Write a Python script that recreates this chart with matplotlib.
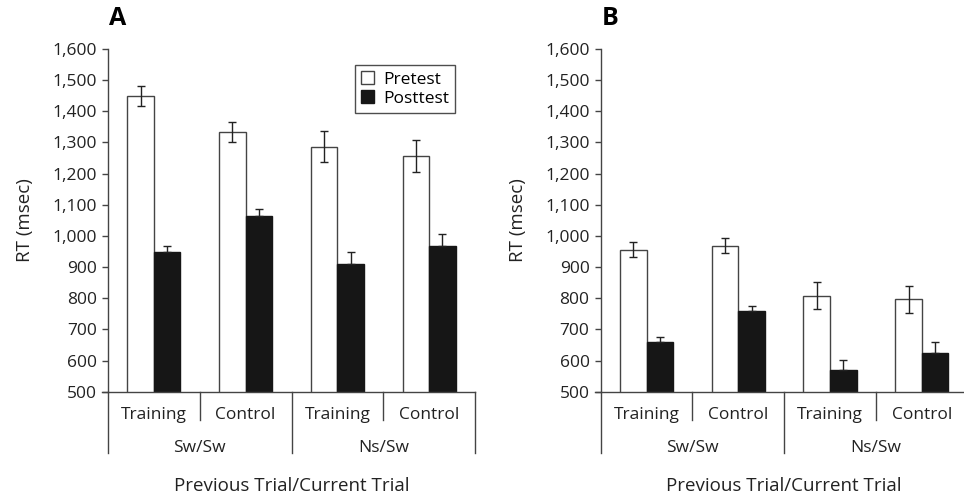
import matplotlib
matplotlib.use("Agg")
import matplotlib.pyplot as plt
import matplotlib.transforms as mtransforms
import numpy as np

plt.rcParams["font.family"] = ["Open Sans", "DejaVu Sans"]

# data
conditions = ["Training", "Control", "Training", "Control"]
groups = ["Sw/Sw", "Ns/Sw"]
series = ["Pretest", "Posttest"]

pre_a = [1449, 1334, 1287, 1257]
pre_a_err = [32, 32, 51, 51]
post_a = [948, 1064, 911, 969]
post_a_err = [19, 22, 37, 36]

pre_b = [956, 968, 808, 797]
pre_b_err = [24, 24, 43, 43]
post_b = [658, 758, 570, 625]
post_b_err = [17, 17, 33, 33]

yticks = [500, 600, 700, 800, 900, 1000, 1100, 1200, 1300, 1400, 1500, 1600]

FS = 12.5
EDGE = "#444444"
BLACK = "#161616"
TXT = "#222222"


def draw_panel(ax, pre, pre_err, post, post_err, letter, legend=False):
    x = np.arange(len(conditions))
    w = 0.29
    ax.bar(x - w / 2, pre, w, color="white", edgecolor=EDGE,
           linewidth=1.0, label=series[0], zorder=2)
    ax.bar(x + w / 2, post, w, color=BLACK, edgecolor=BLACK,
           linewidth=1.0, label=series[1], zorder=2)
    ax.errorbar(x - w / 2, pre, yerr=pre_err, fmt="none", ecolor=TXT,
                elinewidth=1.0, capsize=3, capthick=1.0, zorder=3)
    ax.errorbar(x + w / 2, post, yerr=[np.zeros(len(post)), post_err], fmt="none",
                ecolor=TXT, elinewidth=1.0, capsize=3, capthick=1.0, zorder=3)

    ax.set_ylim(500, 1600)
    ax.set_xlim(-0.5, 3.5)
    ax.set_yticks(yticks)
    ax.set_yticklabels([f"{v:,}" for v in yticks], fontsize=FS, color=TXT)
    ax.set_xticks([])
    ax.set_ylabel("RT (msec)", fontsize=13.5, color=TXT, labelpad=13)
    ax.tick_params(axis="y", direction="out", length=4, width=1, color=EDGE, pad=4)
    for s in ["top", "right"]:
        ax.spines[s].set_visible(False)
    for s in ["left", "bottom"]:
        ax.spines[s].set_color(EDGE)
        ax.spines[s].set_linewidth(1.0)
    ax.spines["bottom"].set_bounds(-0.56, 3.5)

    # hierarchical category axis
    trans = mtransforms.blended_transform_factory(ax.transData, ax.transAxes)
    for xs, depth in [(-0.5, -0.18), (0.5, -0.082), (1.5, -0.18), (2.5, -0.082), (3.5, -0.18)]:
        ax.plot([xs, xs], [0, depth], color=EDGE, lw=1.0, transform=trans, clip_on=False)
    for i, c in enumerate(conditions):
        ax.text(i, -0.068, c, transform=trans, ha="center", va="center",
                fontsize=FS, color=TXT)
    for j, g in enumerate(groups):
        ax.text(0.5 + 2 * j, -0.165, g, transform=trans, ha="center", va="center",
                fontsize=FS, color=TXT)
    ax.text(1.5, -0.275, "Previous Trial/Current Trial", transform=trans,
            ha="center", va="center", fontsize=13.5, color=TXT)

    ax.text(0.025, 1.09, letter, transform=ax.transAxes, ha="center", va="center",
            fontsize=18, fontweight="bold", color="black")

    if legend:
        leg = ax.legend(loc="upper right", bbox_to_anchor=(0.946, 0.953),
                        fontsize=FS, frameon=True, fancybox=False,
                        handlelength=0.75, handleheight=0.75, handletextpad=0.5,
                        borderpad=0.35, labelspacing=0.15, borderaxespad=0)
        leg.get_frame().set_edgecolor(TXT)
        leg.get_frame().set_linewidth(1.0)


fig = plt.figure(figsize=(9.64, 4.96), dpi=100)
ax_a = fig.add_axes([108 / 964, 1 - 391.7 / 496, 367 / 964, 342.7 / 496])
ax_b = fig.add_axes([600.7 / 964, 1 - 391.7 / 496, 367 / 964, 342.7 / 496])

draw_panel(ax_a, pre_a, pre_a_err, post_a, post_a_err, "A", legend=True)
draw_panel(ax_b, pre_b, pre_b_err, post_b, post_b_err, "B")

fig.savefig("out.png", dpi=100)
